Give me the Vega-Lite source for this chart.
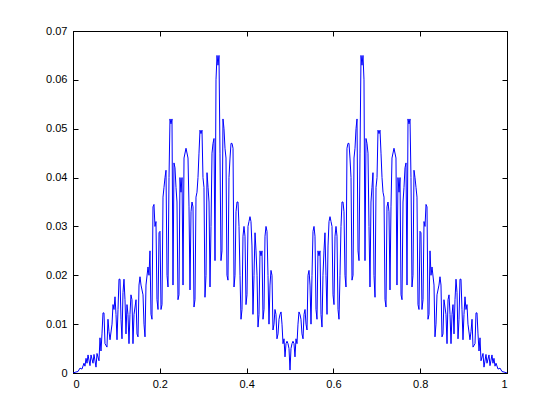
{
"$schema":"https://vega.github.io/schema/vega-lite/v6.json",
"width":434,"height":342,
"autosize":{"type":"none"},
"padding":{"left":73,"top":31,"right":53,"bottom":47},
"background":"white",
"config":{"view":{"stroke":"#000","strokeWidth":1},
"axis":{"grid":false,"domainColor":"#000","tickColor":"#000","labelColor":"#000","labelFont":"Liberation Sans","labelFontSize":11,"title":null,"tickSize":-5,"domainWidth":1,"tickWidth":1}},
"datasets":{"d":[
{"x":0,"y":0},{"x":0.0069,"y":0.0002},{"x":0.0115,"y":0.0003},{"x":0.0161,"y":0.0010},{"x":0.0207,"y":0.0008},{"x":0.0253,"y":0.0020},{"x":0.0276,"y":0.0014},{"x":0.0300,"y":0.0030},{"x":0.0323,"y":0.0020},{"x":0.0346,"y":0.0037},{"x":0.0392,"y":0.0015},{"x":0.0415,"y":0.0037},{"x":0.0461,"y":0.0020},{"x":0.0484,"y":0.0038},{"x":0.0530,"y":0.0012},{"x":0.0553,"y":0.0040},{"x":0.0599,"y":0.0025},{"x":0.0622,"y":0.0072},{"x":0.0645,"y":0.0045},{"x":0.0668,"y":0.0080},{"x":0.0691,"y":0.0123},{"x":0.0714,"y":0.0123},{"x":0.0737,"y":0.0060},{"x":0.0783,"y":0.0053},{"x":0.0806,"y":0.0110},{"x":0.0829,"y":0.0085},{"x":0.0853,"y":0.0068},{"x":0.0899,"y":0.0100},{"x":0.0922,"y":0.0140},{"x":0.0945,"y":0.0130},{"x":0.0968,"y":0.0156},{"x":0.0991,"y":0.0120},{"x":0.1014,"y":0.0068},{"x":0.1037,"y":0.0130},{"x":0.1060,"y":0.0192},{"x":0.1083,"y":0.0192},{"x":0.1106,"y":0.0110},{"x":0.1129,"y":0.0070},{"x":0.1152,"y":0.0165},{"x":0.1175,"y":0.0192},{"x":0.1198,"y":0.0150},{"x":0.1221,"y":0.0080},{"x":0.1244,"y":0.0140},{"x":0.1267,"y":0.0120},{"x":0.1290,"y":0.0060},{"x":0.1313,"y":0.0120},{"x":0.1336,"y":0.0160},{"x":0.1359,"y":0.0150},{"x":0.1382,"y":0.0060},{"x":0.1406,"y":0.0120},{"x":0.1452,"y":0.0150},{"x":0.1475,"y":0.0080},{"x":0.1498,"y":0.0074},{"x":0.1521,"y":0.0180},{"x":0.1544,"y":0.0197},{"x":0.1567,"y":0.0180},{"x":0.1613,"y":0.0160},{"x":0.1636,"y":0.0100},{"x":0.1659,"y":0.0074},{"x":0.1682,"y":0.0180},{"x":0.1728,"y":0.0217},{"x":0.1751,"y":0.0200},{"x":0.1774,"y":0.0250},{"x":0.1797,"y":0.0120},{"x":0.1820,"y":0.0110},{"x":0.1843,"y":0.0340},{"x":0.1866,"y":0.0345},{"x":0.1889,"y":0.0300},{"x":0.1912,"y":0.0310},{"x":0.1935,"y":0.0150},{"x":0.1959,"y":0.0130},{"x":0.1982,"y":0.0287},{"x":0.2005,"y":0.0290},{"x":0.2028,"y":0.0130},{"x":0.2051,"y":0.0140},{"x":0.2074,"y":0.0360},{"x":0.2097,"y":0.0380},{"x":0.2120,"y":0.0400},{"x":0.2143,"y":0.0415},{"x":0.2166,"y":0.0200},{"x":0.2189,"y":0.0176},{"x":0.2212,"y":0.0400},{"x":0.2235,"y":0.0520},{"x":0.2258,"y":0.0510},{"x":0.2281,"y":0.0520},{"x":0.2304,"y":0.0180},{"x":0.2327,"y":0.0430},{"x":0.2350,"y":0.0420},{"x":0.2373,"y":0.0380},{"x":0.2396,"y":0.0350},{"x":0.2419,"y":0.0150},{"x":0.2442,"y":0.0160},{"x":0.2465,"y":0.0400},{"x":0.2488,"y":0.0370},{"x":0.2512,"y":0.0400},{"x":0.2535,"y":0.0180},{"x":0.2558,"y":0.0440},{"x":0.2604,"y":0.0460},{"x":0.2650,"y":0.0440},{"x":0.2673,"y":0.0340},{"x":0.2696,"y":0.0170},{"x":0.2719,"y":0.0330},{"x":0.2742,"y":0.0350},{"x":0.2765,"y":0.0340},{"x":0.2788,"y":0.0135},{"x":0.2811,"y":0.0150},{"x":0.2834,"y":0.0360},{"x":0.2857,"y":0.0370},{"x":0.2880,"y":0.0400},{"x":0.2903,"y":0.0450},{"x":0.2926,"y":0.0497},{"x":0.2949,"y":0.0490},{"x":0.2972,"y":0.0497},{"x":0.2995,"y":0.0400},{"x":0.3018,"y":0.0380},{"x":0.3041,"y":0.0155},{"x":0.3065,"y":0.0200},{"x":0.3088,"y":0.0410},{"x":0.3111,"y":0.0380},{"x":0.3134,"y":0.0350},{"x":0.3157,"y":0.0176},{"x":0.3180,"y":0.0300},{"x":0.3203,"y":0.0450},{"x":0.3226,"y":0.0470},{"x":0.3249,"y":0.0480},{"x":0.3272,"y":0.0230},{"x":0.3295,"y":0.0600},{"x":0.3318,"y":0.0650},{"x":0.3341,"y":0.0630},{"x":0.3364,"y":0.0650},{"x":0.3387,"y":0.0450},{"x":0.3410,"y":0.0230},{"x":0.3433,"y":0.0250},{"x":0.3456,"y":0.0520},{"x":0.3479,"y":0.0500},{"x":0.3502,"y":0.0460},{"x":0.3525,"y":0.0440},{"x":0.3548,"y":0.0200},{"x":0.3571,"y":0.0190},{"x":0.3594,"y":0.0400},{"x":0.3618,"y":0.0440},{"x":0.3641,"y":0.0470},{"x":0.3664,"y":0.0470},{"x":0.3687,"y":0.0460},{"x":0.3710,"y":0.0176},{"x":0.3733,"y":0.0200},{"x":0.3756,"y":0.0330},{"x":0.3779,"y":0.0350},{"x":0.3802,"y":0.0350},{"x":0.3825,"y":0.0300},{"x":0.3848,"y":0.0200},{"x":0.3871,"y":0.0110},{"x":0.3894,"y":0.0130},{"x":0.3917,"y":0.0280},{"x":0.3940,"y":0.0300},{"x":0.3963,"y":0.0280},{"x":0.3986,"y":0.0140},{"x":0.4009,"y":0.0160},{"x":0.4032,"y":0.0300},{"x":0.4055,"y":0.0310},{"x":0.4078,"y":0.0320},{"x":0.4101,"y":0.0310},{"x":0.4124,"y":0.0260},{"x":0.4147,"y":0.0120},{"x":0.4171,"y":0.0200},{"x":0.4194,"y":0.0287},{"x":0.4217,"y":0.0250},{"x":0.4240,"y":0.0200},{"x":0.4263,"y":0.0094},{"x":0.4286,"y":0.0120},{"x":0.4309,"y":0.0250},{"x":0.4332,"y":0.0240},{"x":0.4355,"y":0.0250},{"x":0.4378,"y":0.0110},{"x":0.4401,"y":0.0130},{"x":0.4424,"y":0.0280},{"x":0.4447,"y":0.0300},{"x":0.4470,"y":0.0290},{"x":0.4493,"y":0.0200},{"x":0.4516,"y":0.0100},{"x":0.4539,"y":0.0180},{"x":0.4562,"y":0.0210},{"x":0.4585,"y":0.0200},{"x":0.4608,"y":0.0088},{"x":0.4631,"y":0.0100},{"x":0.4654,"y":0.0130},{"x":0.4677,"y":0.0120},{"x":0.4700,"y":0.0070},{"x":0.4724,"y":0.0080},{"x":0.4747,"y":0.0110},{"x":0.4770,"y":0.0120},{"x":0.4793,"y":0.0125},{"x":0.4816,"y":0.0100},{"x":0.4839,"y":0.0060},{"x":0.4862,"y":0.0070},{"x":0.4885,"y":0.0033},{"x":0.4908,"y":0.0060},{"x":0.4931,"y":0.0065},{"x":0.4954,"y":0.0060},{"x":0.4977,"y":0.0050},{"x":0.5,"y":0.0006},
{"x":0.5023,"y":0.0050},{"x":0.5046,"y":0.0060},{"x":0.5069,"y":0.0065},{"x":0.5092,"y":0.0060},{"x":0.5115,"y":0.0033},{"x":0.5138,"y":0.0070},{"x":0.5161,"y":0.0060},{"x":0.5184,"y":0.0100},{"x":0.5207,"y":0.0125},{"x":0.5230,"y":0.0120},{"x":0.5253,"y":0.0110},{"x":0.5276,"y":0.0080},{"x":0.5300,"y":0.0070},{"x":0.5323,"y":0.0120},{"x":0.5346,"y":0.0130},{"x":0.5369,"y":0.0100},{"x":0.5392,"y":0.0088},{"x":0.5415,"y":0.0200},{"x":0.5438,"y":0.0210},{"x":0.5461,"y":0.0180},{"x":0.5484,"y":0.0100},{"x":0.5507,"y":0.0200},{"x":0.5530,"y":0.0290},{"x":0.5553,"y":0.0300},{"x":0.5576,"y":0.0280},{"x":0.5599,"y":0.0130},{"x":0.5622,"y":0.0110},{"x":0.5645,"y":0.0250},{"x":0.5668,"y":0.0240},{"x":0.5691,"y":0.0250},{"x":0.5714,"y":0.0120},{"x":0.5737,"y":0.0094},{"x":0.5760,"y":0.0200},{"x":0.5783,"y":0.0250},{"x":0.5806,"y":0.0287},{"x":0.5829,"y":0.0200},{"x":0.5853,"y":0.0120},{"x":0.5876,"y":0.0260},{"x":0.5899,"y":0.0310},{"x":0.5922,"y":0.0320},{"x":0.5945,"y":0.0310},{"x":0.5968,"y":0.0300},{"x":0.5991,"y":0.0160},{"x":0.6014,"y":0.0140},{"x":0.6037,"y":0.0280},{"x":0.6060,"y":0.0300},{"x":0.6083,"y":0.0280},{"x":0.6106,"y":0.0130},{"x":0.6129,"y":0.0110},{"x":0.6152,"y":0.0200},{"x":0.6175,"y":0.0300},{"x":0.6198,"y":0.0350},{"x":0.6221,"y":0.0350},{"x":0.6244,"y":0.0330},{"x":0.6267,"y":0.0200},{"x":0.6290,"y":0.0176},{"x":0.6313,"y":0.0460},{"x":0.6336,"y":0.0470},{"x":0.6359,"y":0.0470},{"x":0.6382,"y":0.0440},{"x":0.6406,"y":0.0400},{"x":0.6429,"y":0.0190},{"x":0.6452,"y":0.0200},{"x":0.6475,"y":0.0440},{"x":0.6498,"y":0.0460},{"x":0.6521,"y":0.0500},{"x":0.6544,"y":0.0520},{"x":0.6567,"y":0.0250},{"x":0.6590,"y":0.0230},{"x":0.6613,"y":0.0450},{"x":0.6636,"y":0.0650},{"x":0.6659,"y":0.0630},{"x":0.6682,"y":0.0650},{"x":0.6705,"y":0.0600},{"x":0.6728,"y":0.0230},{"x":0.6751,"y":0.0480},{"x":0.6774,"y":0.0470},{"x":0.6797,"y":0.0450},{"x":0.6820,"y":0.0300},{"x":0.6843,"y":0.0176},{"x":0.6866,"y":0.0350},{"x":0.6889,"y":0.0380},{"x":0.6912,"y":0.0410},{"x":0.6935,"y":0.0200},{"x":0.6959,"y":0.0155},{"x":0.6982,"y":0.0380},{"x":0.7005,"y":0.0400},{"x":0.7028,"y":0.0497},{"x":0.7051,"y":0.0490},{"x":0.7074,"y":0.0497},{"x":0.7097,"y":0.0450},{"x":0.7120,"y":0.0400},{"x":0.7143,"y":0.0370},{"x":0.7166,"y":0.0360},{"x":0.7189,"y":0.0150},{"x":0.7212,"y":0.0135},{"x":0.7235,"y":0.0340},{"x":0.7258,"y":0.0350},{"x":0.7281,"y":0.0330},{"x":0.7304,"y":0.0170},{"x":0.7327,"y":0.0340},{"x":0.7350,"y":0.0440},{"x":0.7396,"y":0.0460},{"x":0.7442,"y":0.0440},{"x":0.7465,"y":0.0180},{"x":0.7488,"y":0.0400},{"x":0.7512,"y":0.0370},{"x":0.7535,"y":0.0400},{"x":0.7558,"y":0.0160},{"x":0.7581,"y":0.0150},{"x":0.7604,"y":0.0350},{"x":0.7627,"y":0.0380},{"x":0.7650,"y":0.0420},{"x":0.7673,"y":0.0430},{"x":0.7696,"y":0.0180},{"x":0.7719,"y":0.0520},{"x":0.7742,"y":0.0510},{"x":0.7765,"y":0.0520},{"x":0.7788,"y":0.0400},{"x":0.7811,"y":0.0176},{"x":0.7834,"y":0.0200},{"x":0.7857,"y":0.0415},{"x":0.7880,"y":0.0400},{"x":0.7903,"y":0.0380},{"x":0.7926,"y":0.0360},{"x":0.7949,"y":0.0140},{"x":0.7972,"y":0.0130},{"x":0.7995,"y":0.0290},{"x":0.8018,"y":0.0287},{"x":0.8041,"y":0.0130},{"x":0.8065,"y":0.0150},{"x":0.8088,"y":0.0310},{"x":0.8111,"y":0.0300},{"x":0.8134,"y":0.0345},{"x":0.8157,"y":0.0340},{"x":0.8180,"y":0.0110},{"x":0.8203,"y":0.0120},{"x":0.8226,"y":0.0250},{"x":0.8249,"y":0.0200},{"x":0.8272,"y":0.0217},{"x":0.8318,"y":0.0180},{"x":0.8341,"y":0.0074},{"x":0.8364,"y":0.0100},{"x":0.8387,"y":0.0160},{"x":0.8433,"y":0.0180},{"x":0.8456,"y":0.0197},{"x":0.8479,"y":0.0180},{"x":0.8502,"y":0.0074},{"x":0.8525,"y":0.0080},{"x":0.8548,"y":0.0150},{"x":0.8594,"y":0.0120},{"x":0.8618,"y":0.0060},{"x":0.8641,"y":0.0150},{"x":0.8664,"y":0.0160},{"x":0.8687,"y":0.0120},{"x":0.8710,"y":0.0060},{"x":0.8733,"y":0.0120},{"x":0.8756,"y":0.0140},{"x":0.8779,"y":0.0080},{"x":0.8802,"y":0.0150},{"x":0.8825,"y":0.0192},{"x":0.8848,"y":0.0165},{"x":0.8871,"y":0.0070},{"x":0.8894,"y":0.0110},{"x":0.8917,"y":0.0192},{"x":0.8940,"y":0.0192},{"x":0.8963,"y":0.0130},{"x":0.8986,"y":0.0068},{"x":0.9009,"y":0.0120},{"x":0.9032,"y":0.0156},{"x":0.9055,"y":0.0130},{"x":0.9078,"y":0.0140},{"x":0.9101,"y":0.0100},{"x":0.9147,"y":0.0068},{"x":0.9171,"y":0.0085},{"x":0.9194,"y":0.0110},{"x":0.9217,"y":0.0053},{"x":0.9263,"y":0.0060},{"x":0.9286,"y":0.0123},{"x":0.9309,"y":0.0123},{"x":0.9332,"y":0.0080},{"x":0.9355,"y":0.0045},{"x":0.9378,"y":0.0072},{"x":0.9401,"y":0.0025},{"x":0.9447,"y":0.0040},{"x":0.9470,"y":0.0012},{"x":0.9516,"y":0.0038},{"x":0.9539,"y":0.0020},{"x":0.9585,"y":0.0037},{"x":0.9608,"y":0.0015},{"x":0.9654,"y":0.0037},{"x":0.9677,"y":0.0020},{"x":0.9700,"y":0.0030},{"x":0.9724,"y":0.0014},{"x":0.9747,"y":0.0020},{"x":0.9793,"y":0.0008},{"x":0.9839,"y":0.0010},{"x":0.9885,"y":0.0003},{"x":0.9931,"y":0.0002},{"x":1,"y":0}
]},
"data":{"name":"d"},
"layer":[
{"mark":{"type":"line","color":"#0000ff","strokeWidth":1,"clip":true},
"encoding":{
"x":{"field":"x","type":"quantitative","scale":{"domain":[0,1],"nice":false,"zero":false},"axis":{"orient":"bottom","values":[0,0.2,0.4,0.6,0.8,1],"format":"~g","labelPadding":10}},
"y":{"field":"y","type":"quantitative","scale":{"domain":[0,0.07],"nice":false},"axis":{"orient":"left","values":[0,0.01,0.02,0.03,0.04,0.05,0.06,0.07],"format":"~g","labelPadding":11}}}},
{"mark":{"type":"line","strokeOpacity":0},
"encoding":{
"x":{"field":"x","type":"quantitative","axis":{"orient":"top","values":[0,0.2,0.4,0.6,0.8,1],"labels":false}},
"y":{"field":"y","type":"quantitative","axis":{"orient":"right","values":[0,0.01,0.02,0.03,0.04,0.05,0.06,0.07],"labels":false}}}}
],
"resolve":{"axis":{"x":"independent","y":"independent"}}
}
